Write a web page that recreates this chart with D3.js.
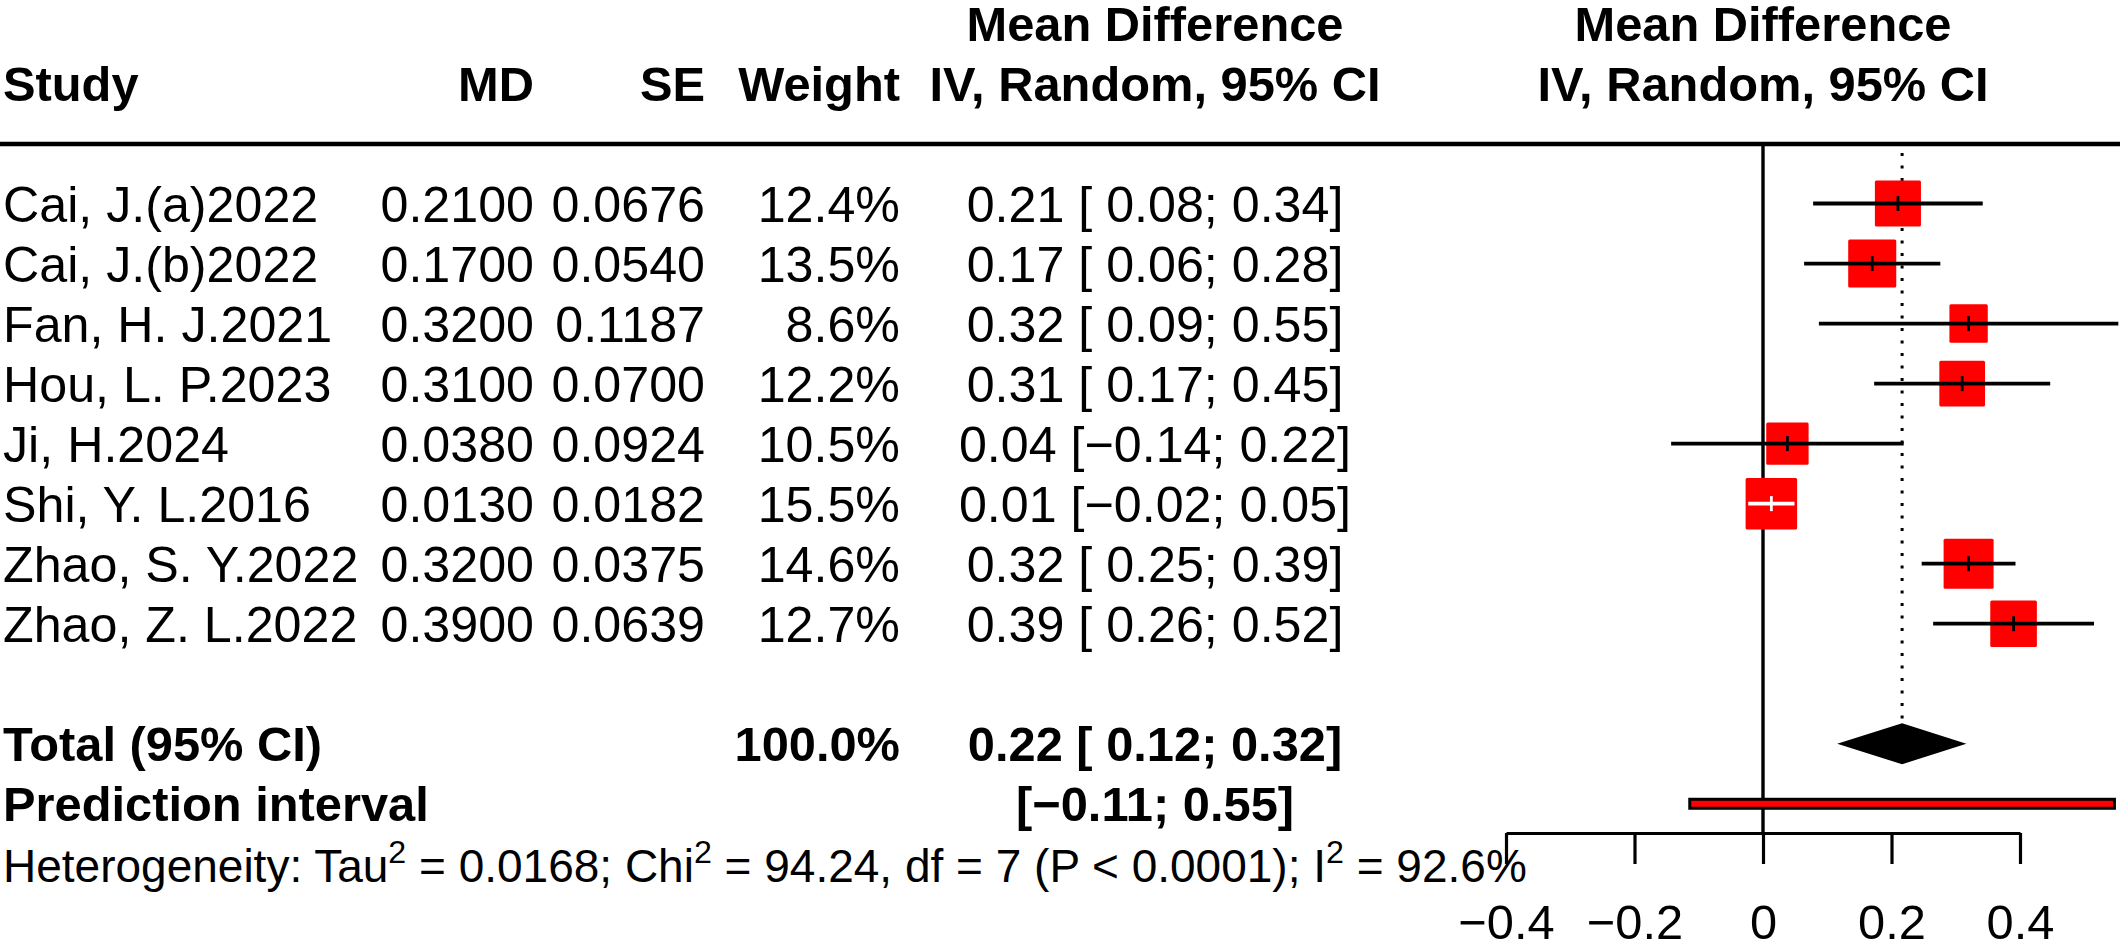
<!DOCTYPE html>
<html>
<head>
<meta charset="utf-8">
<script src="https://cdn.jsdelivr.net/npm/d3@7"></script>
<style>
  html, body { margin: 0; padding: 0; background: #fff; }
  svg { display: block; }
  text { font-family: "Liberation Sans", Arial, sans-serif; fill: #000; }
</style>
</head>
<body>
<svg id="chart" width="2120" height="944"></svg>
<script>
// ---------- data ----------
const studies = ["Cai, J.(a)2022", "Cai, J.(b)2022", "Fan, H. J.2021", "Hou, L. P.2023",
                 "Ji, H.2024", "Shi, Y. L.2016", "Zhao, S. Y.2022", "Zhao, Z. L.2022"];
const md      = [0.2100, 0.1700, 0.3200, 0.3100, 0.0380, 0.0130, 0.3200, 0.3900];
const se      = [0.0676, 0.0540, 0.1187, 0.0700, 0.0924, 0.0182, 0.0375, 0.0639];
const weight  = [12.4, 13.5, 8.6, 12.2, 10.5, 15.5, 14.6, 12.7];
const ciLower = [0.078, 0.064, 0.087, 0.173, -0.143, -0.023, 0.247, 0.2648];
const ciUpper = [0.342, 0.276, 0.553, 0.447, 0.219, 0.049, 0.393, 0.5152];
const pooled      = {est: 0.2165, lower: 0.1155, upper: 0.3165, weight: 100.0};
const prediction  = {lower: -0.114, upper: 0.547};
const tickValues  = [-0.4, -0.2, 0, 0.2, 0.4];
const headerTop   = ["Mean Difference"];
const headerSub   = ["Study", "MD", "SE", "Weight", "IV, Random, 95% CI"];
const hetParts = [
  {t: "Heterogeneity: Tau"}, {t: "2", sup: true}, {t: " = 0.0168; Chi"}, {t: "2", sup: true},
  {t: " = 94.24, df = 7 (P < 0.0001); I"}, {t: "2", sup: true}, {t: " = 92.6%"}
];

// ---------- layout ----------
const W = 2120, H = 944;
const FSB = 48.8;   // bold text
const FSR = 50.2;   // regular text
const FSH = 46;     // heterogeneity line
const svg = d3.select("#chart");

const x = d3.scaleLinear().domain([-0.4, 0.4]).range([1506, 2020]);
const row = d3.scaleLinear().domain([0, 11]).range([203.5, 863.8]);
const boxSize = d3.scaleSqrt().domain([0, 15.5]).range([0, 51.5]);

const colStudyX = 3, colMDX = 534, colSEX = 705, colWX = 900, colCIX = 1155, plotHeadX = x(0);
const dyMid = "0.36em";

const fmt4 = d3.format(".4f");
const fmt2s = d3.format(" .2f");
const fmt2 = d3.format(".2f");
const fmtW = d => d3.format(".1f")(d) + "%";
const ciText = (e, lo, hi) => fmt2(e) + " [" + fmt2s(lo) + "; " + fmt2(hi) + "]";

function txt(g, xx, yy, s, anchor, bold) {
  return g.append("text").attr("x", xx).attr("y", yy).attr("dy", dyMid)
    .attr("text-anchor", anchor).attr("font-size", bold ? FSB : FSR)
    .attr("font-weight", bold ? "bold" : "normal").text(s);
}

// ---------- headers ----------
const hg = svg.append("g");
txt(hg, colCIX, row(-3), headerTop[0], "middle", true);
txt(hg, plotHeadX, row(-3), headerTop[0], "middle", true);
txt(hg, colStudyX, row(-2), headerSub[0], "start", true);
txt(hg, colMDX, row(-2), headerSub[1], "end", true);
txt(hg, colSEX, row(-2), headerSub[2], "end", true);
txt(hg, colWX, row(-2), headerSub[3], "end", true);
txt(hg, colCIX, row(-2), headerSub[4], "middle", true);
txt(hg, plotHeadX, row(-2), headerSub[4], "middle", true);

svg.append("line").attr("x1", 0).attr("x2", W).attr("y1", 144).attr("y2", 144)
  .attr("stroke", "#000").attr("stroke-width", 4.5);

// ---------- table rows ----------
const tg = svg.append("g");
studies.forEach((s, i) => {
  const y = row(i);
  txt(tg, colStudyX, y, s, "start", false);
  txt(tg, colMDX, y, fmt4(md[i]), "end", false);
  txt(tg, colSEX, y, fmt4(se[i]), "end", false);
  txt(tg, colWX, y, fmtW(weight[i]), "end", false);
  txt(tg, colCIX, y, ciText(md[i], ciLower[i], ciUpper[i]), "middle", false);
});
txt(tg, colStudyX, row(9), "Total (95% CI)", "start", true);
txt(tg, colWX, row(9), fmtW(pooled.weight), "end", true);
txt(tg, colCIX, row(9), ciText(pooled.est, pooled.lower, pooled.upper), "middle", true);
txt(tg, colStudyX, row(10), "Prediction interval", "start", true);
txt(tg, colCIX, row(10), "[" + fmt2(prediction.lower) + "; " + fmt2(prediction.upper) + "]", "middle", true);

// heterogeneity line with superscripts (baseline placed explicitly)
const hetBase = row(11) + 0.36 * FSR;
const supShift = FSH * 0.42;
const het = tg.append("text").attr("x", colStudyX).attr("y", hetBase).attr("font-size", FSH);
hetParts.forEach((p, i) => {
  const ts = het.append("tspan").text(p.t);
  if (p.sup) {
    ts.attr("font-size", FSH * 0.7).attr("dy", -supShift);
  } else if (i > 0 && hetParts[i - 1].sup) {
    ts.attr("dy", supShift);
  }
});

// ---------- plot ----------
const pg = svg.append("g");
// zero line
pg.append("line").attr("x1", x(0)).attr("x2", x(0)).attr("y1", 144).attr("y2", 833)
  .attr("stroke", "#000").attr("stroke-width", 3.4);
// pooled dotted line
pg.append("line").attr("x1", x(pooled.est)).attr("x2", x(pooled.est))
  .attr("y1", 153).attr("y2", row(9) - 20)
  .attr("stroke", "#000").attr("stroke-width", 3).attr("stroke-dasharray", "3,9.5");

studies.forEach((s, i) => {
  const y = row(i), cx = x(md[i]), b = boxSize(weight[i]);
  const inside = x(ciLower[i]) >= cx - b / 2 && x(ciUpper[i]) <= cx + b / 2;
  const lc = inside ? "#fff" : "#000";
  pg.append("rect").attr("x", cx - b / 2).attr("y", y - b / 2).attr("width", b).attr("height", b)
    .attr("rx", 1.5).attr("fill", "#ff0000");
  pg.append("line").attr("x1", x(ciLower[i])).attr("x2", x(ciUpper[i])).attr("y1", y).attr("y2", y)
    .attr("stroke", lc).attr("stroke-width", 3.8);
  pg.append("line").attr("x1", cx).attr("x2", cx).attr("y1", y - 7.5).attr("y2", y + 7.5)
    .attr("stroke", lc).attr("stroke-width", 2.8);
});

// pooled diamond
const yd = row(9), hd = 20.5;
pg.append("path")
  .attr("d", `M${x(pooled.lower)},${yd} L${x(pooled.est)},${yd - hd} L${x(pooled.upper)},${yd} L${x(pooled.est)},${yd + hd} Z`)
  .attr("fill", "#000");

// prediction interval bar
const yp = row(10);
pg.append("rect").attr("x", x(prediction.lower)).attr("y", yp - 4.5)
  .attr("width", x(prediction.upper) - x(prediction.lower)).attr("height", 9)
  .attr("fill", "#ff0000").attr("stroke", "#000").attr("stroke-width", 3);

// axis
const axis = d3.axisBottom(x).tickValues(tickValues).tickSize(31).tickSizeOuter(0)
  .tickFormat(d => d === 0 ? "0" : d3.format(".1f")(d));
const ag = svg.append("g").attr("transform", "translate(0,833)").call(axis);
ag.select(".domain").attr("stroke", "#000").attr("stroke-width", 3.2);
ag.selectAll(".tick line").attr("stroke", "#000").attr("stroke-width", 3.2);
ag.selectAll(".tick text").attr("y", 106).attr("dy", 0)
  .attr("font-size", FSB).attr("font-family", "Liberation Sans, Arial, sans-serif").attr("fill", "#000");
</script>
</body>
</html>
